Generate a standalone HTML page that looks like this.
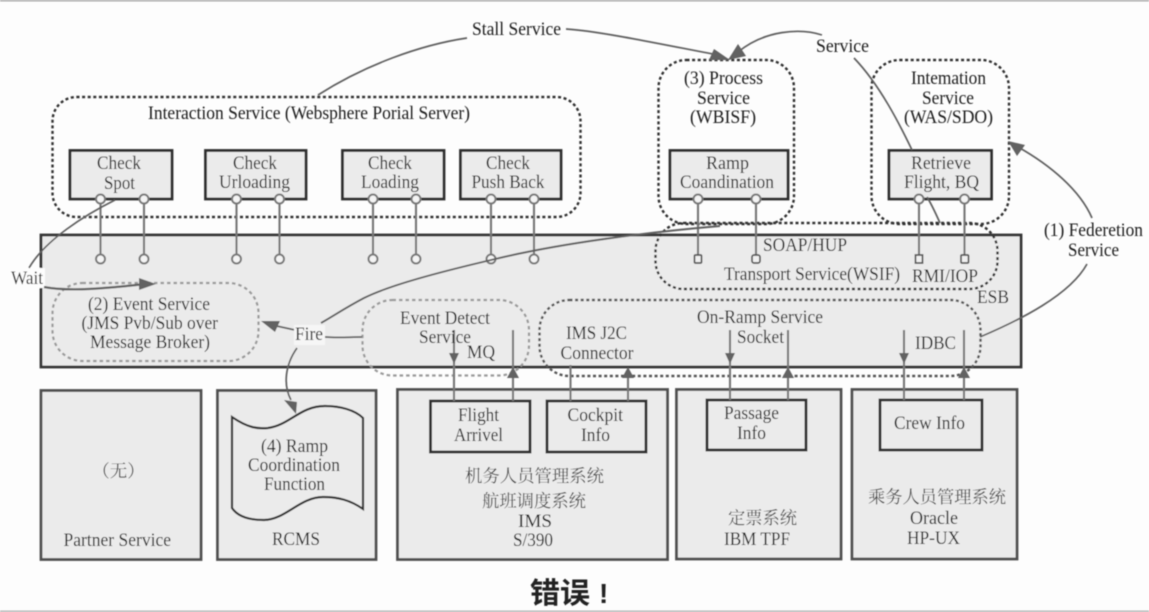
<!DOCTYPE html>
<html><head><meta charset="utf-8">
<style>
html,body{margin:0;padding:0;background:#fdfdfd;width:1149px;height:612px;overflow:hidden}
svg{display:block}
text{font-family:"Liberation Serif","Noto Serif CJK SC",serif;font-size:18.5px;fill:#1e1e1e}
.c{font-family:"Liberation Serif","Noto Serif CJK SC",serif;font-size:17.5px;fill:#3a3a3a}
.box{fill:#ebebeb;stroke:#2e2e2e;stroke-width:2.8}
.sys{fill:#ebebeb;stroke:#505050;stroke-width:2.8}
.dot{fill:none;stroke:#333;stroke-width:2.4;stroke-dasharray:3 2.6}
.lit{fill:none;stroke:#9a9a9a;stroke-width:2.2;stroke-dasharray:3.5 3}
.ln{fill:none;stroke:#777;stroke-width:2.1}
.v{fill:none;stroke:#777;stroke-width:2.1}
.cur{fill:none;stroke:#5e5e5e;stroke-width:1.7}
.ah{fill:#626262;stroke:none}
.o{fill:#f4f4f4;stroke:#777;stroke-width:2}
</style></head>
<body>
<svg width="1149" height="612" viewBox="0 0 1149 612" xmlns="http://www.w3.org/2000/svg">
<defs><filter id="b" x="0" y="0" width="100%" height="100%"><feGaussianBlur stdDeviation="0.55"/></filter></defs>
<rect width="1149" height="612" fill="#fdfdfd"/>
<g filter="url(#b)">
<rect x="0" y="0" width="1149" height="1.500" fill="#aaa"/>
<rect x="0" y="610.500" width="1149" height="1.500" fill="#b5b5b5"/>

<!-- ESB -->
<rect x="41" y="235" width="980" height="132" fill="#ebebeb" stroke="#363636" stroke-width="2.800"/>

<!-- Wait gap -->
<rect x="10" y="268" width="35" height="20" fill="#fdfdfd"/>

<!-- Bottom systems -->
<rect class="sys" x="41" y="390.500" width="160" height="169"/>
<rect class="sys" x="217.500" y="390.500" width="158.500" height="169"/>
<rect class="sys" x="397.500" y="389.500" width="270" height="170"/>
<rect class="sys" x="676.500" y="389.500" width="164.500" height="169.500"/>
<rect class="sys" x="852" y="389.500" width="165" height="169.500"/>

<!-- Dotted groups -->
<rect class="dot" x="52.500" y="97" width="528" height="120" rx="24"/>
<rect class="dot" x="658.500" y="60" width="135.500" height="164" rx="28"/>
<rect class="dot" x="871.500" y="60" width="137.500" height="164" rx="28"/>
<rect class="dot" x="655.500" y="223" width="342" height="66" rx="28"/>
<rect class="lit" x="52.500" y="283" width="206" height="78" rx="30"/>
<rect class="lit" x="362.500" y="300" width="166.500" height="75.500" rx="30"/>
<rect class="dot" x="539.500" y="300" width="441" height="76" rx="30" style="stroke:#555"/>

<!-- Inner boxes -->
<rect class="box" x="70" y="150.500" width="102" height="48.500"/>
<rect class="box" x="205.500" y="150.500" width="100.500" height="48.500"/>
<rect class="box" x="342.500" y="150.500" width="101.500" height="48.500"/>
<rect class="box" x="460.500" y="150.500" width="100.500" height="48.500"/>
<rect class="box" x="670" y="150.500" width="118" height="48.500"/>
<rect class="box" x="889" y="150.500" width="102.500" height="48.500"/>
<rect class="box" x="430.500" y="401" width="99.500" height="51"/>
<rect class="box" x="547" y="401" width="99" height="51"/>
<rect class="box" x="707" y="400" width="99" height="50"/>
<rect class="box" x="880" y="400" width="102" height="50"/>

<!-- Interface stems -->
<g class="ln">
<path d="M100.500 199V259M144 199V259M236.500 199V259M279.500 199V259M373 199V259M416 199V259M491 199V259M534 199V259M698 199V259M756 199V259M919 199V259M964.500 199V259"/>
</g>
<g class="o">
<circle cx="100.500" cy="199" r="4.500"/><circle cx="144" cy="199" r="4.500"/>
<circle cx="236.500" cy="199" r="4.500"/><circle cx="279.500" cy="199" r="4.500"/>
<circle cx="373" cy="199" r="4.500"/><circle cx="416" cy="199" r="4.500"/>
<circle cx="491" cy="199" r="4.500"/><circle cx="534" cy="199" r="4.500"/>
<circle cx="698" cy="199" r="4.500"/><circle cx="756" cy="199" r="4.500"/>
<circle cx="919" cy="199" r="4.500"/><circle cx="964.500" cy="199" r="4.500"/>
<circle cx="100.500" cy="259" r="4.500"/><circle cx="144" cy="259" r="4.500"/>
<circle cx="236.500" cy="259" r="4.500"/><circle cx="279.500" cy="259" r="4.500"/>
<circle cx="373" cy="259" r="4.500"/><circle cx="416" cy="259" r="4.500"/>
<circle cx="491" cy="259" r="4.500"/><circle cx="534" cy="259" r="4.500"/>
</g>
<g fill="#f0f0f0" stroke="#555" stroke-width="1.700">
<rect x="694.500" y="255" width="7" height="8" rx="1"/>
<rect x="752" y="255" width="8" height="8" rx="2"/>
<rect x="915.500" y="255" width="7" height="8"/>
<rect x="961" y="255" width="7.500" height="8" rx="1"/>
</g>

<!-- Curves -->
<path class="cur" d="M318 95C365 65 420 45 467 38"/>
<path class="cur" d="M566 29C600 31 670 46 718 55"/>
<path class="ah" d="M730 60L709 60L714 49Z"/>
<path class="cur" d="M822 35C800 28 765 30 738 52"/>
<path class="ah" d="M728 60L738 44L746 56Z"/>
<path class="cur" d="M854 58C880 85 900 125 912 150"/>
<path class="cur" d="M927 197C932 205 936 214 940 223"/>
<path class="cur" d="M1092 218C1080 190 1050 165 1018 147"/>
<path class="ah" d="M1008 141L1025 145L1017 156Z"/>
<path class="cur" d="M1087 264C1070 295 1020 320 980 337"/>
<path class="cur" d="M115 200C85 215 45 240 29 268"/>
<path class="cur" d="M44 287C70 292 110 288 145 284" style="stroke-width:2.200"/>
<path class="ah" d="M156 284L139 278L139 290Z"/>
<path class="cur" d="M720 226C650 232 560 243 491 260C440 272 390 285 364 298C345 308 335 315 321 323" style="stroke-width:1.900"/>
<path class="cur" d="M295 330L272 325"/>
<path class="ah" d="M261 321L280 321L275 332Z"/>
<path class="cur" d="M325 337C338 338 350 337 362 337"/>
<path class="cur" d="M297 348C285 365 283 385 291 400"/>
<path class="ah" d="M296 414L284 400L297 402Z"/>

<!-- Vertical connectors -->
<g class="v">
<path d="M454 330V401M513 330V401M570.500 365V401M628 372V401M730 330V400M788 330V400M904 330V400M964 330V400"/>
</g>
<g class="ah">
<path d="M454 364L449 353H459Z"/>
<path d="M513 367L507 378H519Z"/>
<path d="M628 367L622 378H634Z"/>
<path d="M730 364L725 353H735Z"/>
<path d="M788 367L782 378H794Z"/>
<path d="M904 364L899 353H909Z"/>
<path d="M964 367L958 378H970Z"/>
</g>

<!-- Document shape -->
<path d="M232 417C248 428 258 429 268 428C290 425 300 406 325 406C340 406 355 410 363 418V509C350 500 338 497 323 497C300 497 285 520 264 520C250 520 238 517 232 508Z" fill="#ebebeb" stroke="#333" stroke-width="2.200"/>

<!-- Text labels -->
<rect x="294" y="325" width="31" height="20" fill="#f6f6f6"/>
<text x="472" y="35" textLength="89" lengthAdjust="spacingAndGlyphs">Stall Service</text>
<text x="148" y="119" textLength="322" lengthAdjust="spacingAndGlyphs">Interaction Service (Websphere Porial Server)</text>

<text x="97" y="169" textLength="44" lengthAdjust="spacingAndGlyphs">Check</text>
<text x="104" y="189" textLength="31" lengthAdjust="spacingAndGlyphs">Spot</text>
<text x="233" y="169" textLength="44" lengthAdjust="spacingAndGlyphs">Check</text>
<text x="219" y="188" textLength="71" lengthAdjust="spacingAndGlyphs">Urloading</text>
<text x="368" y="169" textLength="44" lengthAdjust="spacingAndGlyphs">Check</text>
<text x="361" y="188" textLength="58" lengthAdjust="spacingAndGlyphs">Loading</text>
<text x="486" y="169" textLength="44" lengthAdjust="spacingAndGlyphs">Check</text>
<text x="471.500" y="188" textLength="73" lengthAdjust="spacingAndGlyphs">Push Back</text>

<text x="684" y="84" textLength="79" lengthAdjust="spacingAndGlyphs">(3) Process</text>
<text x="697" y="104" textLength="53" lengthAdjust="spacingAndGlyphs">Service</text>
<text x="690" y="123" textLength="66" lengthAdjust="spacingAndGlyphs">(WBISF)</text>
<text x="706" y="169" textLength="43" lengthAdjust="spacingAndGlyphs">Ramp</text>
<text x="680" y="188" textLength="94" lengthAdjust="spacingAndGlyphs">Coandination</text>

<text x="911" y="84" textLength="75" lengthAdjust="spacingAndGlyphs">Intemation</text>
<text x="922" y="104" textLength="52" lengthAdjust="spacingAndGlyphs">Service</text>
<text x="904" y="123" textLength="89" lengthAdjust="spacingAndGlyphs">(WAS/SDO)</text>
<text x="911" y="169" textLength="60" lengthAdjust="spacingAndGlyphs">Retrieve</text>
<text x="904" y="188" textLength="75" lengthAdjust="spacingAndGlyphs">Flight, BQ</text>

<text x="816" y="52" textLength="53" lengthAdjust="spacingAndGlyphs">Service</text>
<text x="1044" y="236" textLength="99" lengthAdjust="spacingAndGlyphs">(1) Federetion</text>
<text x="1068" y="256" textLength="51" lengthAdjust="spacingAndGlyphs">Service</text>

<text x="763" y="251" textLength="84" lengthAdjust="spacingAndGlyphs">SOAP/HUP</text>
<text x="724" y="280" textLength="176" lengthAdjust="spacingAndGlyphs">Transport Service(WSIF)</text>
<text x="912" y="282" textLength="66" lengthAdjust="spacingAndGlyphs">RMI/IOP</text>
<text x="977" y="303" textLength="32" lengthAdjust="spacingAndGlyphs">ESB</text>

<text x="11" y="284" textLength="32" lengthAdjust="spacingAndGlyphs">Wait</text>
<text x="88" y="310" textLength="122" lengthAdjust="spacingAndGlyphs">(2) Event Service</text>
<text x="81.500" y="329" textLength="136.500" lengthAdjust="spacingAndGlyphs">(JMS Pvb/Sub over</text>
<text x="90" y="348" textLength="120" lengthAdjust="spacingAndGlyphs">Message Broker)</text>
<text x="295" y="340" textLength="28" lengthAdjust="spacingAndGlyphs">Fire</text>

<text x="400" y="324" textLength="90" lengthAdjust="spacingAndGlyphs">Event Detect</text>
<text x="419" y="343" textLength="52" lengthAdjust="spacingAndGlyphs">Service</text>
<text x="467" y="358" textLength="28" lengthAdjust="spacingAndGlyphs">MQ</text>
<text x="566" y="339" textLength="61" lengthAdjust="spacingAndGlyphs">IMS J2C</text>
<text x="560.500" y="359" textLength="73" lengthAdjust="spacingAndGlyphs">Connector</text>
<text x="697" y="323" textLength="126" lengthAdjust="spacingAndGlyphs">On-Ramp Service</text>
<text x="737" y="343" textLength="47" lengthAdjust="spacingAndGlyphs">Socket</text>
<text x="915" y="349" textLength="41" lengthAdjust="spacingAndGlyphs">IDBC</text>

<text x="458" y="421" textLength="41" lengthAdjust="spacingAndGlyphs">Flight</text>
<text x="454" y="441" textLength="49" lengthAdjust="spacingAndGlyphs">Arrivel</text>
<text x="567.500" y="421" textLength="55.500" lengthAdjust="spacingAndGlyphs">Cockpit</text>
<text x="581" y="441" textLength="29" lengthAdjust="spacingAndGlyphs">Info</text>
<text x="724" y="419" textLength="55" lengthAdjust="spacingAndGlyphs">Passage</text>
<text x="737" y="439" textLength="29" lengthAdjust="spacingAndGlyphs">Info</text>
<text x="894" y="429" textLength="71" lengthAdjust="spacingAndGlyphs">Crew Info</text>

<text x="261" y="452" textLength="67" lengthAdjust="spacingAndGlyphs">(4) Ramp</text>
<text x="248" y="471" textLength="92" lengthAdjust="spacingAndGlyphs">Coordination</text>
<text x="264" y="490" textLength="61" lengthAdjust="spacingAndGlyphs">Function</text>

<text class="c" x="118.500" y="477" text-anchor="middle">（无）</text>
<text x="63.500" y="546" textLength="107.500" lengthAdjust="spacingAndGlyphs">Partner Service</text>
<text x="272" y="545" textLength="48" lengthAdjust="spacingAndGlyphs">RCMS</text>

<text class="c" x="465" y="482" textLength="139" lengthAdjust="spacingAndGlyphs">机务人员管理系统</text>
<text class="c" x="482" y="507" textLength="104" lengthAdjust="spacingAndGlyphs">航班调度系统</text>
<text x="518" y="527" textLength="34" lengthAdjust="spacingAndGlyphs">IMS</text>
<text x="513" y="546" textLength="40" lengthAdjust="spacingAndGlyphs">S/390</text>
<text class="c" x="728" y="524" textLength="69" lengthAdjust="spacingAndGlyphs">定票系统</text>
<text x="724" y="545" textLength="66" lengthAdjust="spacingAndGlyphs">IBM TPF</text>
<text class="c" x="868" y="503" textLength="138" lengthAdjust="spacingAndGlyphs">乘务人员管理系统</text>
<text x="910" y="524" textLength="48" lengthAdjust="spacingAndGlyphs">Oracle</text>
<text x="907" y="544" textLength="53" lengthAdjust="spacingAndGlyphs">HP-UX</text>

<text x="530" y="603" style="font-family:'Liberation Sans','Noto Sans CJK SC',sans-serif;font-size:29px;font-weight:700;fill:#222" textLength="60" lengthAdjust="spacingAndGlyphs">错误</text>
<text x="599" y="603" style="font-family:'Liberation Sans',sans-serif;font-size:28px;font-weight:700;fill:#222">!</text>
</g>
</svg>
</body></html>
